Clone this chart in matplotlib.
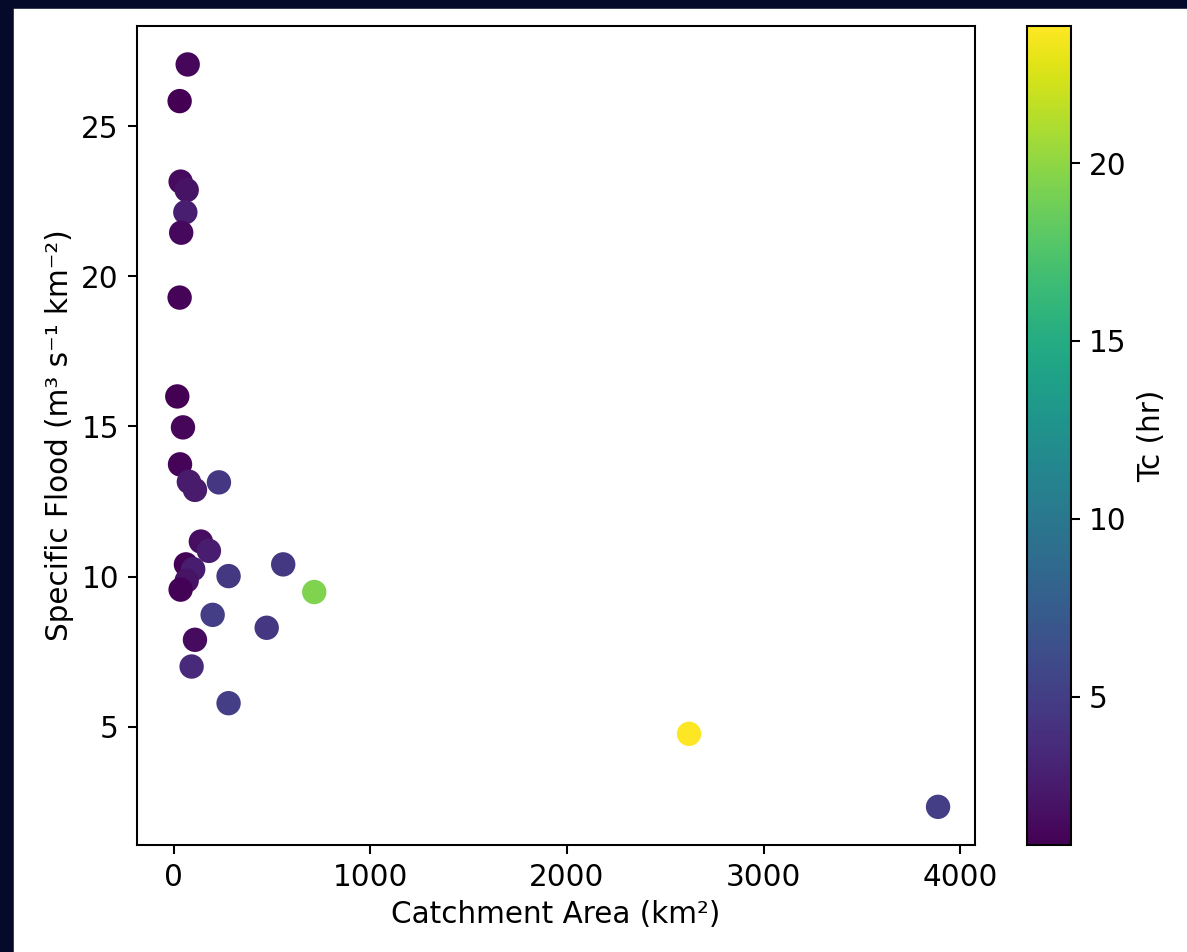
import matplotlib
matplotlib.use('Agg')
import matplotlib.pyplot as plt
from matplotlib.patches import Rectangle

# catchment area (km2), specific flood (m3 s-1 km-2), time of concentration (hr)
area = [70, 29, 34, 65, 58, 37, 29,
        17, 46, 31, 76, 107, 229,
        137, 178, 61, 556, 98, 278, 65, 34,
        714, 197, 472, 107, 90, 278,
        2621, 3888]
flood = [27.05, 25.83, 23.15, 22.87, 22.13, 21.45, 19.29,
         16.0, 14.97, 13.74, 13.16, 12.89, 13.14,
         11.17, 10.86, 10.41, 10.41, 10.25, 10.02, 9.87, 9.57,
         9.49, 8.73, 8.30, 7.90, 7.01, 5.79,
         4.77, 2.34]
tc = [1.2, 0.9, 1.5, 2.0, 2.8, 1.3, 1.1,
      0.9, 1.2, 1.1, 2.5, 2.5, 4.5,
      1.6, 2.6, 1.0, 4.6, 2.6, 4.6, 2.0, 1.0,
      19.4, 5.0, 4.5, 1.5, 3.6, 5.0,
      23.85, 5.0]

plt.rcParams['font.size'] = 11.5

fig = plt.figure(figsize=(1187 / 185, 952 / 185), dpi=185)
ax = fig.add_axes([0.1154, 0.1124, 0.706, 0.8603])
cax = fig.add_axes([0.8652, 0.1124, 0.0371, 0.8603])

sc = ax.scatter(area, flood, c=tc, cmap='viridis', s=72,
                vmin=0.84, vmax=23.85)
ax.set_xlim(-188, 4076)
ax.set_ylim(1.07, 28.33)
ax.set_xticks([0, 1000, 2000, 3000, 4000])
ax.set_yticks([5, 10, 15, 20, 25])
ax.set_xlabel('Catchment Area (km²)', labelpad=3)
ax.set_ylabel('Specific Flood (m³ s⁻¹ km⁻²)', labelpad=3)

cb = fig.colorbar(sc, cax=cax)
cb.set_ticks([5, 10, 15, 20])
cb.set_label('Tc (hr)')

# dark screen frame around the screenshot
fig.patches.append(Rectangle((0, 0), 12 / 1187, 1, transform=fig.transFigure,
                             color='#050a2a', zorder=10))
fig.patches.append(Rectangle((0, 1 - 7 / 952), 1, 7 / 952, transform=fig.transFigure,
                             color='#050a2a', zorder=10))

fig.savefig('out.png', dpi=185)
